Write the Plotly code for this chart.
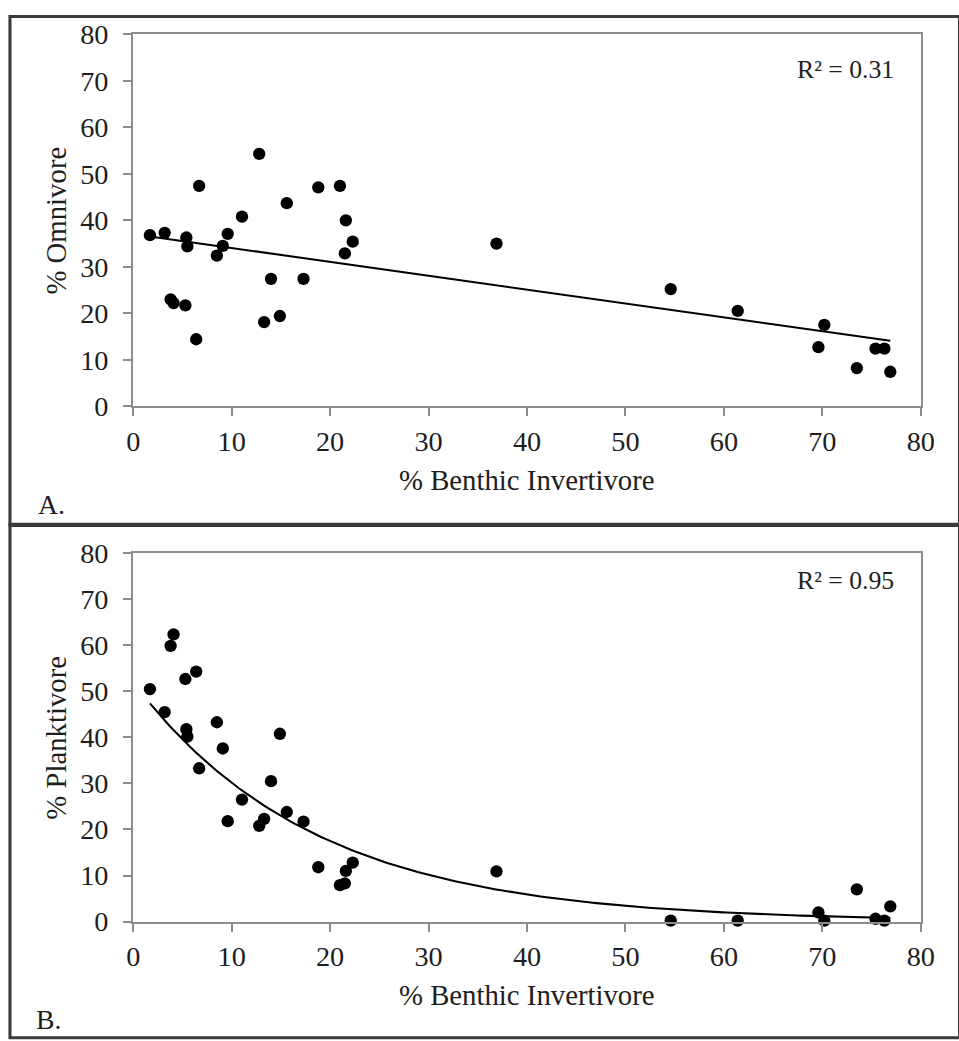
import numpy as np
import plotly.graph_objects as go

# ---- data ----
benthic = [1.7, 3.2, 3.8, 4.1, 5.3, 5.4, 5.5, 6.4, 6.7, 8.5, 9.1, 9.6, 11.05,
           12.8, 13.3, 14.0, 14.9, 15.6, 17.3, 18.8, 21.0, 21.5, 21.6, 22.3,
           36.9, 54.6, 61.4, 69.6, 70.2, 73.5, 75.4, 76.3, 76.9]
omnivore = [36.8, 37.3, 23.0, 22.2, 21.7, 36.3, 34.4, 14.4, 47.4, 32.4, 34.5,
            37.1, 40.8, 54.3, 18.1, 27.4, 19.4, 43.7, 27.4, 47.1, 47.4, 32.9,
            40.0, 35.4, 35.0, 25.2, 20.5, 12.7, 17.5, 8.2, 12.4, 12.4, 7.4]
planktivore = [50.5, 45.5, 59.9, 62.4, 52.7, 41.8, 40.2, 54.3, 33.3, 43.3,
               37.6, 21.8, 26.5, 20.8, 22.3, 30.5, 40.8, 23.8, 21.7, 11.8, 7.9,
               8.3, 11.0, 12.8, 10.9, 0.2, 0.2, 2.0, 0.2, 7.0, 0.6, 0.2, 3.3]
tick_vals = [0, 10, 20, 30, 40, 50, 60, 70, 80]
r2_top = "R² = 0.31"
r2_bot = "R² = 0.95"
# exponential trendline parameters for panel B (y = a * exp(b x))
exp_a, exp_b = 52.0, -0.0545

# ---- trendlines ----
bx = np.array(benthic)
slope, intercept = np.polyfit(bx, np.array(omnivore), 1)
xl = np.array([bx.min(), bx.max()])
yl = slope * xl + intercept
xc = np.linspace(bx.min(), bx.max(), 200)
yc = exp_a * np.exp(exp_b * xc)

# layout geometry: reference pixel positions mapped onto the page
S = 1.028
OX, OY = 9.3, 15.4
FW, FH = 977, 1056

def X(r):
    return (r * S - OX) / FW

def Y(r):
    return 1 - (r * S - OY) / FH

def sz(v):
    return v * S

FONT = "Liberation Serif, Times New Roman, serif"
TXT = "#1e1e1e"
AX = "#8c8c8c"

fig = go.Figure()
mk = dict(color="black", size=sz(12))
lw = sz(2)
fig.add_trace(go.Scatter(x=benthic, y=omnivore, mode="markers", marker=mk,
                         cliponaxis=False, xaxis="x", yaxis="y", showlegend=False))
fig.add_trace(go.Scatter(x=xl, y=yl, mode="lines", line=dict(color="black", width=lw),
                         xaxis="x", yaxis="y", showlegend=False))
fig.add_trace(go.Scatter(x=benthic, y=planktivore, mode="markers", marker=mk,
                         cliponaxis=False, xaxis="x2", yaxis="y2", showlegend=False))
fig.add_trace(go.Scatter(x=xc, y=yc, mode="lines", line=dict(color="black", width=lw),
                         xaxis="x2", yaxis="y2", showlegend=False))

x_dom = [X(134.5), X(917.5)]
axis_common = dict(range=[0, 80], tickvals=tick_vals, showgrid=False, zeroline=False,
                   showline=True, linecolor=AX, linewidth=sz(2), mirror=True,
                   ticks="outside", ticklen=8, tickcolor=AX, tickwidth=sz(1.5),
                   tickfont=dict(family=FONT, size=sz(27.5), color=TXT), fixedrange=True)

fig.update_layout(
    width=FW, height=FH, margin=dict(l=0, r=0, t=0, b=0),
    paper_bgcolor="white", plot_bgcolor="white",
    xaxis=dict(domain=x_dom, anchor="y", ticklabelstandoff=1, **axis_common),
    yaxis=dict(domain=[Y(407), Y(34.5)], anchor="x", ticklabelstandoff=9, **axis_common),
    xaxis2=dict(domain=x_dom, anchor="y2", ticklabelstandoff=1, **axis_common),
    yaxis2=dict(domain=[Y(923.5), Y(554.5)], anchor="x2", ticklabelstandoff=9, **axis_common),
)

def ann(text, x, y, size=28, xanchor="center", angle=0):
    fig.add_annotation(text=text, x=X(x), y=Y(y), xref="paper", yref="paper",
                       showarrow=False, xanchor=xanchor, yanchor="middle",
                       textangle=angle, font=dict(family=FONT, size=sz(size), color=TXT))

ann("% Benthic Invertivore", 526, 481)
ann("% Benthic Invertivore", 526, 997)
ann("% Omnivore", 58, 220.75, angle=-90)
ann("% Planktivore", 58, 739, angle=-90)
ann("A.", 38, 506, size=27, xanchor="left")
ann("B.", 36, 1022, size=27, xanchor="left")
ann(r2_top, 893, 70, size=25, xanchor="right")
ann(r2_bot, 893, 582, size=25, xanchor="right")

BORDER = "#3a3a3a"
top_y = 1 - 1.5 / FH
fig.add_shape(type="rect", xref="paper", yref="paper", x0=X(12), x1=X(956),
              y0=Y(526), y1=top_y, line=dict(color=BORDER, width=sz(3)))
fig.add_shape(type="rect", xref="paper", yref="paper", x0=X(12), x1=X(956),
              y0=Y(1040), y1=Y(526), line=dict(color=BORDER, width=sz(3)))
fig.add_shape(type="line", xref="paper", yref="paper", x0=X(12), x1=1,
              y0=Y(526), y1=Y(526), line=dict(color=BORDER, width=sz(4)))

fig.write_html(
    "out.html",
    config={"displayModeBar": False},
    post_script="document.body.style.margin='0';document.body.style.overflow='hidden';",
)
